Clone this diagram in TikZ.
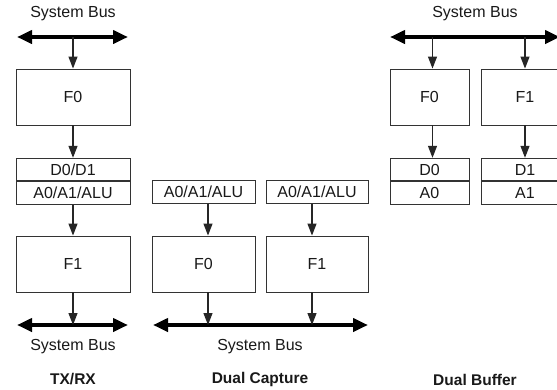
\documentclass[tikz,border=0pt]{standalone}
\usepackage{fontspec}
\setmainfont{Liberation Sans}
\usetikzlibrary{arrows.meta}
\newcommand\lblfont{\fontsize{16}{19}\selectfont}
\newcommand\ttlfont{\fontsize{15.5}{19}\selectfont\bfseries}
\tikzset{
  box/.style={draw=black!80, line width=0.9pt, fill=white, inner sep=0pt, font=\lblfont, text=black!90},
  fbox/.style={box, minimum height=56pt},
  rbox/.style={box, minimum height=22.5pt},
  arr/.style={draw=black!85, line width=1.2pt, -{Triangle[length=12pt,width=9pt]}},
  bus/.style={draw=black, line width=4pt, {Triangle[length=15pt,width=13pt]}-{Triangle[length=15pt,width=13pt]}},
  lbl/.style={font=\lblfont, text=black!90, inner sep=0pt},
  ttl/.style={font=\ttlfont, text=black!90, inner sep=0pt}
}
\begin{document}
\begin{tikzpicture}[x=1pt,y=-1pt]
\clip (0,0) rectangle (557,389);
\fill[white] (0,0) rectangle (557,389);
% ---------- TX/RX ----------
\node[lbl] (tlt) at (73,14) {System Bus};
\coordinate (tL) at (17,37); \coordinate (tR) at (128,37);
\draw[bus] (tL) -- (tR);
\node[fbox, minimum width=114pt] (t0) at (73,97) {F0};
\node[rbox, minimum width=114pt] (td) at (73,169.5) {D0/D1};
\node[rbox, minimum width=114pt, anchor=north] (ta) at (td.south) {A0/A1/ALU};
\node[fbox, minimum width=114pt] (t1) at (73,264) {F1};
\coordinate (tbL) at (17,325); \coordinate (tbR) at (128,325);
\draw[bus] (tbL) -- (tbR);
\node[lbl] (tlb) at (73,347) {System Bus};
\node[ttl] (tt) at (73,379) {TX/RX};
\draw[arr] (t0.north |- tL) -- (t0.north);
\draw[arr] (t0.south) -- (td.north);
\draw[arr] (ta.south) -- (t1.north);
\draw[arr] (t1.south) -- (t1.south |- tbL);
% ---------- Dual Capture ----------
\node[rbox, minimum width=103pt] (ca0) at (203.5,192) {A0/A1/ALU};
\node[rbox, minimum width=102pt] (ca1) at (317,192) {A0/A1/ALU};
\node[fbox, minimum width=103pt] (cf0) at (203.5,264) {F0};
\node[fbox, minimum width=102pt] (cf1) at (317,264) {F1};
\coordinate (cL) at (153,325); \coordinate (cR) at (368,325);
\draw[bus] (cL) -- (cR);
\node[lbl] (clb) at (260,347) {System Bus};
\node[ttl] (ct) at (260,379) {Dual Capture};
\draw[arr] ([xshift=4.5pt]ca0.south) -- ([xshift=4.5pt]cf0.north);
\draw[arr] ([xshift=-5pt]ca1.south) -- ([xshift=-5pt]cf1.north);
\draw[arr] ([xshift=4.5pt]cf0.south) -- ([xshift=4.5pt]cf0.south |- cL);
\draw[arr] ([xshift=-5pt]cf1.south) -- ([xshift=-5pt]cf1.south |- cL);
% ---------- Dual Buffer ----------
\node[lbl] (blt) at (475,14) {System Bus};
\coordinate (bL) at (390,37); \coordinate (bR) at (560,37);
\draw[bus] (bL) -- (bR);
\node[fbox, minimum width=79pt] (bf0) at (429.5,97) {F0};
\node[fbox, minimum width=88pt] (bf1) at (525,97) {F1};
\node[rbox, minimum width=79pt] (bd0) at (429.5,169.5) {D0};
\node[rbox, minimum width=79pt, anchor=north] (ba0) at (bd0.south) {A0};
\node[rbox, minimum width=88pt] (bd1) at (525,169.5) {D1};
\node[rbox, minimum width=88pt, anchor=north] (ba1) at (bd1.south) {A1};
\node[ttl] (bt) at (475,380) {Dual Buffer};
\draw[arr] ([xshift=3pt]bf0.north |- bL) -- ([xshift=3pt]bf0.north);
\draw[arr] (bf1.north |- bL) -- (bf1.north);
\draw[arr] ([xshift=3pt]bf0.south) -- ([xshift=3pt]bd0.north);
\draw[arr] (bf1.south) -- (bd1.north);
\end{tikzpicture}
\end{document}
